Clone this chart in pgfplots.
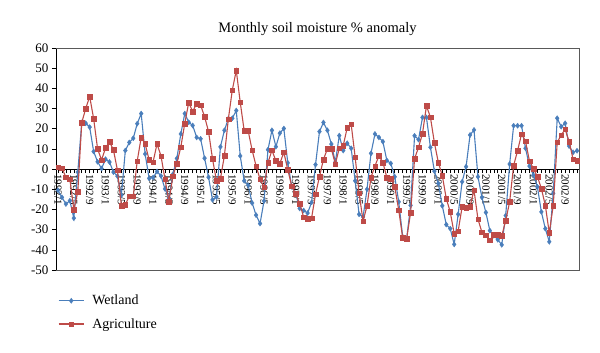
\documentclass[border=0pt]{standalone}
\usepackage{fontspec}
\setmainfont{Liberation Serif}
\usepackage{pgfplots}
\usepackage{pgfplotstable}
\pgfplotsset{compat=1.18}
\definecolor{wet}{RGB}{74,126,187}
\definecolor{agr}{RGB}{190,75,72}
\pgfplotstableread{
i wet agr
0 -10.5 1
1 -14 0.5
2 -17.3 -4
3 -15.7 -5
4 -24.3 -20
5 -1.5 -11.3
6 23.1 23
7 22.7 30
8 20.8 36
9 8.7 25
10 3.6 10
11 0.3 4.5
12 4.9 10.5
13 3.5 13.5
14 -1.5 9.5
15 -3.5 -0.5
16 -12.9 -18
17 9.2 -17.5
18 13.2 -13.5
19 15.3 -13.5
20 22.5 4
21 27.5 15.7
22 7.5 12.5
23 -4.6 4.6
24 -4.2 3.5
25 -1.2 12.5
26 -3.4 6.5
27 -9.8 -5
28 -14.4 -16
29 -2.6 -3.5
30 5.3 2.8
31 17.4 10.9
32 27.5 22.6
33 23.2 33
34 21.6 28.5
35 15.7 32.5
36 15 31.7
37 5.4 26
38 -4 18.6
39 -15.2 5.1
40 -13.8 -5.8
41 11 -4.8
42 19.2 6.6
43 25 24.8
44 25.2 39.2
45 29 48.9
46 6.5 33.1
47 -5.8 19
48 -8 19
49 -16.8 9.4
50 -22.8 1.5
51 -27 -5
52 -15.8 -9
53 9.6 3.2
54 19.2 9.3
55 11.1 4.1
56 17.8 2.8
57 20.1 8.3
58 3.1 -0.3
59 -8.8 -8.5
60 -12.1 -12.3
61 -19.5 -17
62 -20.5 -23.8
63 -21.8 -24.7
64 -16.5 -24.3
65 2.2 -12.5
66 18.6 -3.7
67 23.1 4.8
68 19.2 10
69 12.4 10
70 3.4 2.5
71 16.6 10.4
72 9.2 11.7
73 12.8 20.5
74 10.3 22.2
75 -5.8 6
76 -22.4 -12
77 -23.7 -25.7
78 -10 -18.2
79 7.8 -4.1
80 17.4 1.5
81 15.7 6.6
82 13.6 3.3
83 4.3 -4.1
84 2.8 -4.8
85 -3.8 -8.8
86 -16.2 -20.3
87 -33.5 -34.1
88 -34.5 -34.5
89 -18 -21.6
90 16.5 5.1
91 14.6 10.8
92 25.6 17.6
93 25.6 31.3
94 10.8 25.7
95 -1 13.1
96 -7.1 3.3
97 -18.2 -3.3
98 -27.5 -14.6
99 -29.5 -21.2
100 -37.3 -32
101 -22.4 -30.7
102 -6.3 -18.7
103 1.2 -19
104 16.9 -18.5
105 19.4 -10.4
106 -3.8 -24.8
107 -14 -31.3
108 -21.5 -32.8
109 -30.5 -35.3
110 -33 -32.5
111 -35 -32.6
112 -37.5 -33.1
113 -23 -25.5
114 2.5 -16.2
115 21.5 1.8
116 21.5 9.1
117 21.5 17.4
118 10.3 13.8
119 1.5 4
120 -3 0.2
121 -8.8 -3.8
122 -21.2 -9.6
123 -29.5 -18
124 -36 -31.6
125 -12 -18
126 25.2 13.3
127 21 16.8
128 22.7 19.7
129 11.4 13.7
130 8.3 4.9
131 9.1 4.3
}\datatable
\begin{document}
\begin{tikzpicture}
\useasboundingbox (0,0) rectangle (600bp,353bp);
\begin{axis}[
  at={(56bp,83bp)}, anchor=south west,
  scale only axis, width=523bp, height=222bp,
  xmin=-0.5, xmax=131.5, ymin=-50, ymax=60,
  axis x line*=middle, axis y line*=left,
  hide obscured x ticks=false, hide obscured y ticks=false,
  clip mode=individual,
  ytick={-50,-40,...,60},
  xtick={0,4,...,128},
  minor xtick={0,...,131},
  xticklabels={1992/1,1992/5,1992/9,1993/1,1993/5,1993/9,1994/1,1994/5,1994/9,1995/1,1995/5,1995/9,1996/1,1996/5,1996/9,1997/1,1997/5,1997/9,1998/1,1998/5,1998/9,1999/1,1999/5,1999/9,2000/1,2000/5,2000/9,2001/1,2001/5,2001/9,2002/1,2002/5,2002/9},
  tick align=outside,
  major tick length=4bp, minor tick length=4bp,
  tick style={black, line width=0.6bp},
  axis line style={black, line width=0.8bp},
  xticklabel style={font=\fontsize{11bp}{12bp}\selectfont, rotate=-90, anchor=west, inner sep=1bp},
  yticklabel style={font=\fontsize{13bp}{14bp}\selectfont},
  /pgf/number format/assume math mode=true,
  title={Monthly soil moisture \% anomaly},
  title style={font=\fontsize{14.5bp}{16bp}\selectfont, at={(axis description cs:0.5,1)}, anchor=base, yshift=10bp},
  legend style={draw=none, fill=none, inner sep=0pt, at={(axis description cs:0,0)}, anchor=north west, xshift=2bp, yshift=-23bp, font=\fontsize{14bp}{16bp}\selectfont, row sep=8bp, /tikz/every odd column/.append style={column sep=6bp}},
  legend cell align=left,
  legend image code/.code={\draw[mark repeat=2, mark phase=2, #1] plot coordinates {(0bp,0bp) (12.5bp,0bp) (25bp,0bp)};},
]
\draw[gray!70!black, line width=0.6bp] (rel axis cs:0,1) -- (rel axis cs:1,1) -- (rel axis cs:1,0) -- (rel axis cs:0,0);
\addplot[wet, line width=1.1bp, mark=diamond*, mark size=2.6bp, mark options={fill=wet, draw=wet, line width=0.3bp}] table[x=i, y=wet] {\datatable};
\addlegendentry{Wetland}
\addplot[agr, line width=1.1bp, mark=square*, mark size=2.3bp, mark options={fill=agr, draw=agr, line width=0.3bp}] table[x=i, y=agr] {\datatable};
\addlegendentry{Agriculture}
\end{axis}
\end{tikzpicture}
\end{document}
